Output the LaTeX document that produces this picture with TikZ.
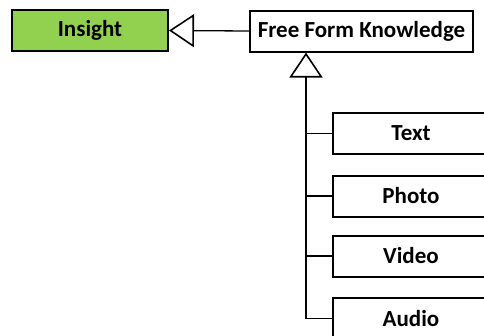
\documentclass[tikz,border=0pt]{standalone}
\usepackage{fontspec}
\setmainfont{Carlito}
\usetikzlibrary{arrows.meta}
\definecolor{leafgreen}{HTML}{92D050}
\begin{document}
\begin{tikzpicture}[x=1pt,y=-1pt,
  box/.style={draw=black,line width=2pt,fill=white,inner sep=0pt,
    minimum height=41pt,minimum width=156pt,font=\fontsize{23}{26}\selectfont\bfseries},
  link/.style={draw=black,line width=1.3pt},
  inherit/.style={link,-{Triangle[open,length=25pt,width=33pt,line width=1.6pt]}}]
\useasboundingbox (0,0) rectangle (484,335);
\clip (0,0) rectangle (484,335);
\fill[white] (0,0) rectangle (484,335);

\node[box,fill=leafgreen] (ins) at (90,30.5) {Insight};
\node[box,minimum width=223pt] (ffk) at (361.5,31) {Free Form Knowledge};

\node[box] (txt) at (411,133.5) {Text};
\node[box] (pho) at (411,196) {Photo};
\node[box] (vid) at (411,256) {Video};
\node[box] (aud) at (411,318.5) {Audio};

% generalisation arrows
\draw[inherit] (ffk.west) -- (ins.east);
\coordinate (trunk) at (306,318.5);
\draw[inherit] (trunk) -- (trunk |- ffk.south);

% branches to each subtype
\foreach \n in {txt,pho,vid,aud}
  \draw[link] (trunk |- \n.west) -- (\n.west);
\end{tikzpicture}
\end{document}
